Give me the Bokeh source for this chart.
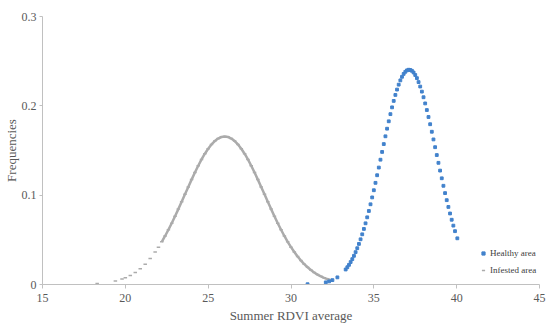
from bokeh.plotting import figure
from bokeh.models import FixedTicker, NumeralTickFormatter, Legend, LegendItem
from bokeh.embed import file_html
from bokeh.resources import INLINE

# ---- data ----
infested_x = [18.3, 19.4, 19.8, 20.0, 20.3, 20.6, 20.9, 21.2, 21.5, 21.8, 22.0,
              22.2, 22.4, 22.6, 22.8, 23.0, 23.2, 23.4, 23.6, 23.8, 24.0,
              24.2, 24.4, 24.6, 24.8, 25.0, 25.2, 25.4, 25.6, 25.8, 26.0,
              26.2, 26.4, 26.6, 26.8, 27.0, 27.2, 27.4, 27.6, 27.8, 28.0,
              28.2, 28.4, 28.6, 28.8, 29.0, 29.2, 29.4, 29.6, 29.8, 30.0,
              30.2, 30.4, 30.6, 30.8, 31.0, 31.2, 31.4, 31.6, 31.8, 32.0, 32.2, 32.4]
infested_y = [0.0010, 0.0039, 0.0061, 0.0075, 0.0101, 0.0135, 0.0177, 0.0228, 0.0290, 0.0363, 0.0418,
              0.0478, 0.0543, 0.0613, 0.0686, 0.0764, 0.0844, 0.0926, 0.1009, 0.1092, 0.1174,
              0.1254, 0.1329, 0.1400, 0.1464, 0.1520, 0.1568, 0.1606, 0.1634, 0.1651, 0.1657,
              0.1651, 0.1634, 0.1606, 0.1568, 0.1520, 0.1464, 0.1400, 0.1329, 0.1254, 0.1174,
              0.1092, 0.1009, 0.0926, 0.0844, 0.0764, 0.0686, 0.0613, 0.0543, 0.0478, 0.0418,
              0.0363, 0.0313, 0.0268, 0.0228, 0.0193, 0.0162, 0.0135, 0.0111, 0.0092, 0.0075, 0.0061, 0.0049]

healthy_x = [31.0, 32.1, 32.3, 32.5, 32.8, 33.3, 33.4, 33.5, 33.6, 33.7, 33.8, 33.9,
             34.0, 34.1, 34.2, 34.3, 34.4, 34.5, 34.6, 34.7, 34.8, 34.9,
             35.0, 35.1, 35.2, 35.3, 35.4, 35.5, 35.6, 35.7, 35.8, 35.9,
             36.0, 36.1, 36.2, 36.3, 36.4, 36.5, 36.6, 36.7, 36.8, 36.9,
             37.0, 37.1, 37.2, 37.3, 37.4, 37.5, 37.6, 37.7, 37.8, 37.9,
             38.0, 38.1, 38.2, 38.3, 38.4, 38.5, 38.6, 38.7, 38.8, 38.9,
             39.0, 39.1, 39.2, 39.3, 39.4, 39.5, 39.6, 39.7, 39.8, 39.9, 40.04]
healthy_y = [0.0003, 0.0024, 0.0035, 0.0049, 0.0080, 0.0168, 0.0193, 0.0220, 0.0251, 0.0284, 0.0321, 0.0362,
             0.0406, 0.0454, 0.0506, 0.0562, 0.0622, 0.0685, 0.0752, 0.0823, 0.0898, 0.0975,
             0.1055, 0.1138, 0.1223, 0.1309, 0.1397, 0.1484, 0.1572, 0.1659, 0.1744, 0.1827,
             0.1907, 0.1983, 0.2055, 0.2122, 0.2182, 0.2237, 0.2285, 0.2325, 0.2357, 0.2381,
             0.2397, 0.2404, 0.2402, 0.2392, 0.2373, 0.2345, 0.2310, 0.2266, 0.2216, 0.2159,
             0.2096, 0.2027, 0.1953, 0.1875, 0.1794, 0.1710, 0.1624, 0.1537, 0.1449, 0.1362,
             0.1275, 0.1189, 0.1105, 0.1023, 0.0944, 0.0868, 0.0795, 0.0725, 0.0659, 0.0597, 0.0517]

x_ticks = [15, 20, 25, 30, 35, 40, 45]
y_ticks = [0, 0.1, 0.2, 0.3]
series_labels = ["Healthy area", "Infested area"]

BLUE = "#4282cc"
GRAY = "#ababab"
FONT = "Liberation Serif"
TXT = "#595959"
AXC = "#c0c0c0"

p = figure(width=550, height=326, output_backend="svg", toolbar_location=None,
           x_range=(15, 45), y_range=(0, 0.3),
           min_border_left=42, min_border_right=11, min_border_top=16, min_border_bottom=42)

# gray dense curve
r_gray_line = p.line(infested_x[11:], infested_y[11:], line_width=2.5, color=GRAY)
r_gray = p.scatter(infested_x, infested_y, marker="dash", size=3.5, line_width=1.5, color=GRAY)
r_blue = p.scatter(healthy_x, healthy_y, marker="square", size=2.8, color=BLUE, line_color=BLUE)

p.xaxis.ticker = FixedTicker(ticks=x_ticks)
p.yaxis.ticker = FixedTicker(ticks=y_ticks)
p.yaxis.formatter = NumeralTickFormatter(format="0.[0]")

for ax in (p.xaxis[0], p.yaxis[0]):
    ax.axis_line_color = AXC
    ax.major_tick_line_color = AXC
    ax.minor_tick_line_color = None
    ax.major_tick_in = 0
    ax.major_label_text_font = FONT
    ax.major_label_text_font_size = "12px"
    ax.major_label_text_color = TXT
    ax.axis_label_text_font = FONT
    ax.axis_label_text_font_size = "13px"
    ax.axis_label_text_font_style = "normal"
    ax.axis_label_text_color = TXT

p.xaxis.major_tick_out = 4
p.xaxis.major_label_standoff = 5
p.xaxis.axis_label_standoff = 3
p.xaxis.axis_label = "Summer RDVI average"
p.yaxis.major_tick_out = 3
p.yaxis.major_label_standoff = 3
p.yaxis.axis_label_standoff = 0
p.yaxis.axis_label = "Frequencies"

p.xgrid.visible = False
p.ygrid.visible = False
p.outline_line_color = None

legend = Legend(items=[LegendItem(label=series_labels[0], renderers=[r_blue]),
                       LegendItem(label=series_labels[1], renderers=[r_gray])],
                location=(437, 7))
legend.margin = 0
legend.padding = 0
legend.spacing = 3
legend.glyph_width = 8
legend.glyph_height = 14
legend.label_height = 14
legend.label_standoff = 3
legend.label_text_font = FONT
legend.label_text_font_size = "9px"
legend.label_text_color = "#404040"
legend.background_fill_alpha = 0
legend.border_line_alpha = 0
p.add_layout(legend)

open("out.html", "w").write(file_html(p, INLINE))
